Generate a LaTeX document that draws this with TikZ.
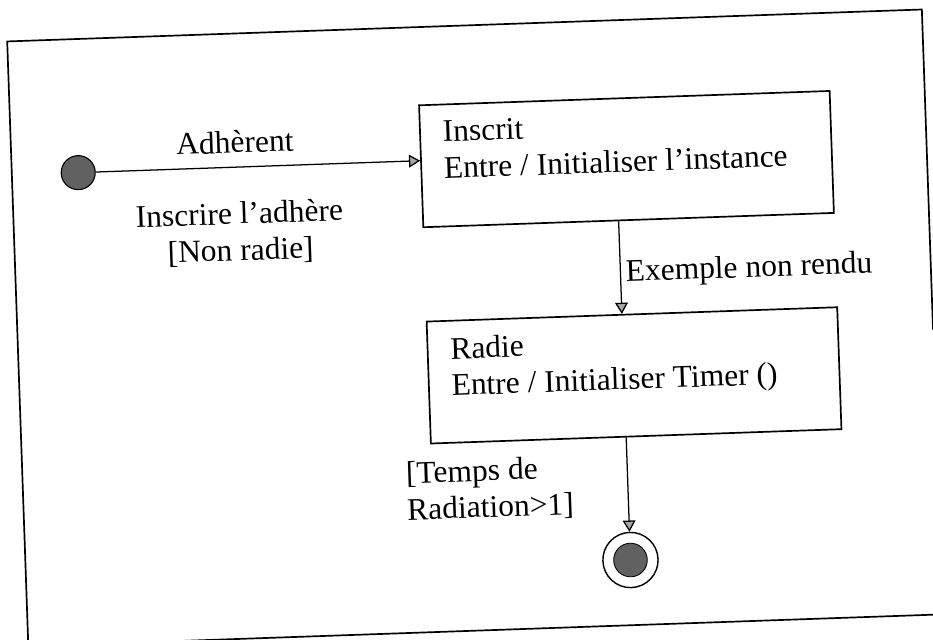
\documentclass[tikz,border=0pt]{standalone}
\usepackage{fontspec}
\setmainfont{Liberation Serif}
\usetikzlibrary{arrows.meta}

\tikzset{
  txt/.style={font=\fontsize{22.4}{26}\selectfont},
  statebox/.style={txt, draw, line width=1.2pt, inner xsep=0.57cm, inner ysep=0.41cm},
  initstate/.style={circle, draw, line width=0.8pt, fill=black!62, minimum size=0.85cm, inner sep=0pt},
  finalstate/.style={circle, draw, line width=1pt, fill=white, minimum size=1.38cm, inner sep=0pt,
    path picture={\filldraw[fill=black!62, line width=0.6pt] (path picture bounding box.center) circle (0.42);}},
  trans/.style={-{Triangle[length=0.28cm,width=0.32cm,fill=black!35]}, line width=0.9pt},
}
\newcommand{\statetext}[1]{\begin{minipage}[t][2.23cm][t]{9.13cm}#1\end{minipage}}

\begin{document}
\begin{tikzpicture}
  \useasboundingbox (0,0) rectangle (23.325,16);
  \begin{scope}[rotate around={2:(11.66,8)}, transform shape]
  % frame
  \draw[line width=1.2pt] (23.31,7.35) -- (23.31,15.36) -- (0.43,15.36) -- (0.43,0.23) -- (24,0.23);

  \node[initstate] (init) at (2.09,12.02) {};
  \node[statebox] (inscrit) at (15.8,11.88) {\statetext{Inscrit\\Entre / Initialiser l'instance}};
  \node[statebox] (radie) at (15.8,6.47) {\statetext{Radie\\Entre / Initialiser Timer ()}};
  \node[finalstate] (final) at (15.55,1.86) {};

  \node[txt] (lbl-adh) at (6.03,12.65) {Adhèrent};
  \node[txt, align=center] (lbl-guard) at (6.08,10.36) {Inscrire l'adhère\\{[Non radie]}};
  \node[txt, align=left] (lbl-temps) at (12.10,3.73) {[Temps de\\Radiation>1]};

  \draw[trans] (init) -- (init -| inscrit.west);
  \draw[trans] ([xshift=-0.25cm]inscrit.south) -- node[txt, right, pos=0.57] (lbl-ex) {Exemple non rendu} ([xshift=-0.25cm]radie.north);
  \draw[trans] (final |- radie.south) -- (final);
  \end{scope}
\end{tikzpicture}
\end{document}
